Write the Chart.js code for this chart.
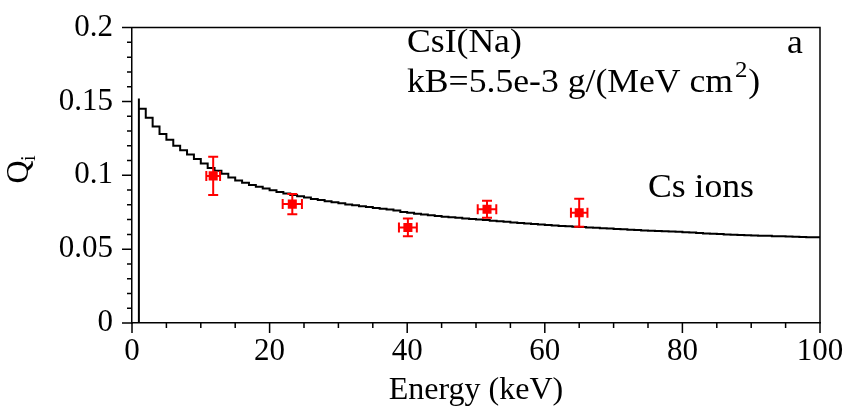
<!DOCTYPE html>
<html>
<head>
<meta charset="utf-8">
<title>Qi CsI(Na)</title>
<script src="https://cdn.jsdelivr.net/npm/chart.js"></script>
<style>
    html, body { margin: 0; padding: 0; background: #fff; }
</style>
</head>
<body>
<canvas id="qChart" width="846" height="410"></canvas>
<script>
// histogram: left edge of each 1 keV bin (keV) and the Q value of that bin
const binStart = [
     1,  2,  3,  4,  5,  6,  7,  8,  9, 10, 11, 12, 13, 14, 15, 16, 17, 18, 19, 20,
    21, 22, 23, 24, 25, 26, 27, 28, 29, 30, 31, 32, 33, 34, 35, 36, 37, 38, 39, 40,
    41, 42, 43, 44, 45, 46, 47, 48, 49, 50, 51, 52, 53, 54, 55, 56, 57, 58, 59, 60,
    61, 62, 63, 64, 65, 66, 67, 68, 69, 70, 71, 72, 73, 74, 75, 76, 77, 78, 79, 80,
    81, 82, 83, 84, 85, 86, 87, 88, 89, 90, 91, 92, 93, 94, 95, 96, 97, 98, 99
];
const binQ = [
    0.152, 0.145, 0.139, 0.133, 0.128, 0.124, 0.120, 0.117, 0.114, 0.111,
    0.108, 0.105, 0.103, 0.101, 0.0985, 0.0965, 0.0950, 0.0935, 0.0922, 0.0910,
    0.0898, 0.0887, 0.0877, 0.0867, 0.0858, 0.0849, 0.0840, 0.0832, 0.0824, 0.0817,
    0.0810, 0.0803, 0.0797, 0.0791, 0.0785, 0.0779, 0.0773, 0.0768, 0.0762, 0.0752,
    0.0746, 0.0740, 0.0734, 0.0729, 0.0724, 0.0720, 0.0716, 0.0712, 0.0708, 0.0704,
    0.0700, 0.0697, 0.0693, 0.0689, 0.0685, 0.0681, 0.0677, 0.0673, 0.0670, 0.0667,
    0.0664, 0.0660, 0.0657, 0.0655, 0.0652, 0.0650, 0.0647, 0.0645, 0.0642, 0.0639,
    0.0636, 0.0634, 0.0632, 0.0629, 0.0627, 0.0625, 0.0623, 0.0621, 0.0619, 0.0617,
    0.0614, 0.0612, 0.0609, 0.0606, 0.0604, 0.0602, 0.0600, 0.0598, 0.0596, 0.0594,
    0.0593, 0.0591, 0.0590, 0.0588, 0.0587, 0.0585, 0.0584, 0.0582, 0.0581
];
const binEnd = 100;

// measured points with errors
const pointE = [11.8, 23.3, 40.1, 51.6, 65.0];
const pointQ = [0.0996, 0.0805, 0.0647, 0.0770, 0.0746];
const errE = [1.0, 1.4, 1.3, 1.35, 1.2];
const errQ = [0.0129, 0.0068, 0.0060, 0.0058, 0.0095];

// axis ticks
const xMajor = [0, 20, 40, 60, 80, 100];
const yMajor = [0, 0.05, 0.1, 0.15, 0.2];

const serif = "'Liberation Serif', 'DejaVu Serif', serif";

// build the step curve, starting from zero at the first edge
var curve = [{ x: binStart[0], y: 0 }];
binStart.forEach(function (e, i) { curve.push({ x: e, y: binQ[i] }); });
curve.push({ x: binEnd, y: binQ[binQ.length - 1] });

var points = pointE.map(function (e, i) { return { x: e, y: pointQ[i] }; });

// error bars for the red points
const errorBars = {
    id: 'errorBars',
    afterDatasetsDraw(chart) {
        const xs = chart.scales.x, ys = chart.scales.y, ctx = chart.ctx;
        ctx.save();
        ctx.strokeStyle = '#ff0000';
        ctx.lineWidth = 2;
        for (let i = 0; i < pointE.length; i++) {
            const cx = xs.getPixelForValue(pointE[i]);
            const cy = ys.getPixelForValue(pointQ[i]);
            const x1 = xs.getPixelForValue(pointE[i] - errE[i]);
            const x2 = xs.getPixelForValue(pointE[i] + errE[i]);
            const y1 = ys.getPixelForValue(pointQ[i] + errQ[i]);
            const y2 = ys.getPixelForValue(pointQ[i] - errQ[i]);
            const c = 5;
            ctx.beginPath();
            ctx.moveTo(cx, y1); ctx.lineTo(cx, y2);
            ctx.moveTo(cx - c, y1); ctx.lineTo(cx + c, y1);
            ctx.moveTo(cx - c, y2); ctx.lineTo(cx + c, y2);
            ctx.moveTo(x1, cy); ctx.lineTo(x2, cy);
            ctx.moveTo(x1, cy - c); ctx.lineTo(x1, cy + c);
            ctx.moveTo(x2, cy - c); ctx.lineTo(x2, cy + c);
            ctx.stroke();
        }
        ctx.restore();
    }
};

// stretched text helper (the reference font is a bit wide)
function wideText(ctx, txt, x, y, size, sx) {
    ctx.save();
    ctx.font = size + 'px ' + serif;
    ctx.translate(x, y);
    ctx.scale(sx, 1);
    ctx.fillText(txt, 0, 0);
    const w = ctx.measureText(txt).width * sx;
    ctx.restore();
    return w;
}

// frame, tick marks, y title and labels
const frame = {
    id: 'frame',
    afterDraw(chart) {
        const ctx = chart.ctx, a = chart.chartArea;
        const xs = chart.scales.x, ys = chart.scales.y;
        ctx.save();
        ctx.strokeStyle = '#000';
        ctx.lineWidth = 1.5;
        ctx.beginPath();
        ctx.moveTo(a.left, a.top); ctx.lineTo(a.right, a.top); ctx.lineTo(a.right, a.bottom);
        ctx.stroke();

        ctx.beginPath();
        for (let k = 0; k <= 20; k++) {
            const v = k * 5;
            const px = xs.getPixelForValue(v);
            const len = (v % 20 === 0) ? 10 : 5;
            ctx.moveTo(px, a.bottom); ctx.lineTo(px, a.bottom + len);
        }
        for (let k = 0; k <= 20; k++) {
            const py = ys.getPixelForValue(k * 0.01);
            const len = (k % 5 === 0) ? 10 : 5;
            ctx.moveTo(a.left, py); ctx.lineTo(a.left - len, py);
        }
        ctx.stroke();

        ctx.fillStyle = '#000';
        ctx.textBaseline = 'alphabetic';
        ctx.textAlign = 'left';

        // y title Q_i, rotated
        ctx.save();
        ctx.translate(28, 172);
        ctx.rotate(-Math.PI / 2);
        ctx.font = '32px ' + serif;
        ctx.textAlign = 'center';
        ctx.fillText('Q', 0, 0);
        ctx.font = '20px ' + serif;
        ctx.textAlign = 'left';
        ctx.fillText('i', 11, 7);
        ctx.restore();

        // annotations
        const s = 33, sx = 1.08;
        wideText(ctx, 'CsI(Na)', 407, 52, s, sx);
        let w = wideText(ctx, 'kB=5.5e-3 g/(MeV cm', 407, 92, s, sx);
        let w2 = wideText(ctx, '2', 407 + w + 2, 77, 23, sx);
        wideText(ctx, ')', 407 + w + w2 + 3, 92, s, sx);
        wideText(ctx, 'a', 787, 53, s, sx);
        wideText(ctx, 'Cs ions', 648, 197, s, sx);
        ctx.restore();
    }
};

var ctx = document.getElementById('qChart').getContext('2d');
var qChart = new Chart(ctx, {
    type: 'scatter',
    data: {
        datasets: [{
                type: 'line',
                label: 'Cs ions',
                data: curve,
                stepped: 'after',
                borderColor: '#000',
                borderWidth: 2,
                pointRadius: 0,
                fill: false,
                order: 2
            },
            {
                label: 'CsI(Na)',
                data: points,
                pointStyle: 'rect',
                pointRadius: 6.4,
                backgroundColor: '#ff0000',
                borderWidth: 0,
                order: 1
            }
        ]
    },
    options: {
        responsive: false,
        animation: false,
        layout: { padding: { top: 19, right: 26, left: 0, bottom: 0 } },
        plugins: {
            legend: { display: false },
            tooltip: { enabled: false }
        },
        scales: {
            x: {
                type: 'linear',
                min: 0,
                max: 100,
                afterFit: function (scale) { scale.height = 87; },
                afterBuildTicks: function (scale) {
                    scale.ticks = xMajor.map(function (v) { return { value: v }; });
                },
                grid: { drawOnChartArea: false, color: 'transparent', tickLength: 10 },
                border: { color: '#000', width: 1.5 },
                ticks: {
                    color: '#000',
                    padding: 0,
                    maxRotation: 0,
                    font: { family: serif, size: 31 }
                },
                title: {
                    display: true,
                    text: 'Energy (keV)',
                    color: '#000',
                    padding: { top: 0, bottom: 0 },
                    font: { family: serif, size: 32, lineHeight: 1.2 }
                }
            },
            y: {
                type: 'linear',
                min: 0,
                max: 0.2,
                afterFit: function (scale) { scale.width = 132; },
                afterBuildTicks: function (scale) {
                    scale.ticks = yMajor.map(function (v) { return { value: v }; });
                },
                grid: { drawOnChartArea: false, color: 'transparent', tickLength: 10 },
                border: { color: '#000', width: 1.5 },
                ticks: {
                    color: '#000',
                    padding: 9,
                    font: { family: serif, size: 31 },
                    callback: function (v) { return String(+v.toFixed(2)); }
                }
            }
        }
    },
    plugins: [errorBars, frame]
});
</script>
</body>
</html>
